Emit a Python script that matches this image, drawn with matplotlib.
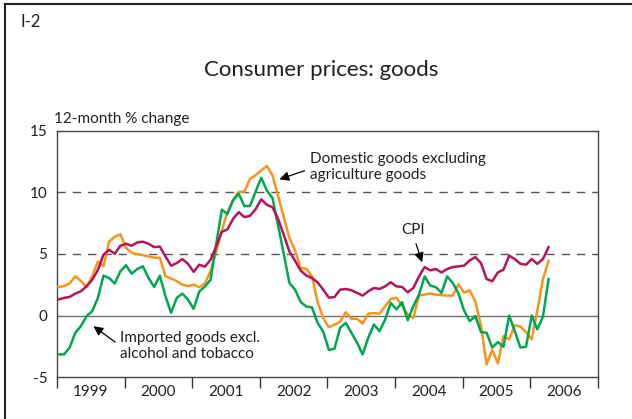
import numpy as np
import matplotlib
matplotlib.use('Agg')
import matplotlib.pyplot as plt
from matplotlib.lines import Line2D
from matplotlib.ticker import FixedLocator, NullFormatter, FixedFormatter

plt.rcParams['font.family'] = ['Lato', 'DejaVu Sans']
plt.rcParams['axes.unicode_minus'] = False

# monthly 12-month % change, Jan 1999 - Apr 2006
domestic = [2.3, 2.4, 2.6, 3.2, 2.8, 2.3, 3.2, 4.4, 4.0, 6.0, 6.4, 6.6,
            5.5, 5.1, 5.0, 4.9, 4.8, 4.7, 4.7, 3.2, 3.0, 2.8, 2.5, 2.4,
            2.5, 2.3, 2.6, 3.6, 5.2, 6.9, 8.4, 9.4, 10.05, 10.05, 11.1, 11.4,
            11.8, 12.15, 11.4, 9.7, 8.0, 6.3, 5.3, 3.85, 3.8, 3.2, 1.1, -0.2,
            -0.95, -0.75, -0.5, 0.27, -0.27, -0.27, -0.65, 0.15, 0.2, 0.15, 0.75, 1.35,
            1.43, 0.76, 0.08, -0.2, 1.62, 1.7, 1.78, 1.7, 1.65, 1.62, 1.62, 2.55,
            1.85, 2.05, 1.16, -0.8, -3.97, -2.8, -3.9, -1.67, -1.94, -0.8, -0.9, -1.35,
            -1.94, 0.4, 2.95, 4.45]
imported = [-3.16, -3.16, -2.6, -1.4, -0.86, -0.05, 0.35, 1.43, 3.24, 3.05, 2.6, 3.6,
            4.08, 3.4, 3.78, 4.0, 3.05, 2.32, 3.24, 1.56, 0.22, 1.43, 1.78, 1.3,
            0.54, 1.95, 2.35, 2.9, 5.8, 8.6, 8.25, 9.35, 9.9, 8.9, 8.9, 10.07,
            11.2, 10.15, 9.55, 7.3, 5.0, 2.65, 2.1, 1.1, 0.73, 0.66, -0.6, -1.3,
            -2.8, -2.7, -1.0, -0.6, -1.4, -2.2, -3.16, -1.8, -0.73, -1.27, -0.32, 1.03,
            0.49, 1.08, -0.38, 0.76, 1.7, 3.18, 2.43, 2.3, 1.84, 3.18, 2.65, 1.8,
            0.4, -0.46, -0.05, -1.35, -1.4, -2.6, -2.16, -2.54, 0.0, -1.27, -2.6, -2.54,
            0.0, -1.13, -0.1, 2.97]
cpi = [1.3, 1.43, 1.51, 1.78, 1.97, 2.38, 2.9, 3.7, 4.94, 5.34, 5.02, 5.67,
       5.83, 5.67, 5.94, 6.0, 5.83, 5.56, 5.6, 4.8, 4.05, 4.26, 4.59, 4.2,
       3.55, 4.13, 3.97, 4.53, 5.6, 6.8, 7.0, 7.85, 8.4, 8.0, 8.1, 8.64,
       9.45, 9.0, 8.8, 7.85, 6.55, 5.2, 4.45, 3.65, 3.25, 3.05, 2.7, 2.1,
       1.45, 1.5, 2.1, 2.16, 2.05, 1.84, 1.62, 1.97, 2.24, 2.16, 2.37, 2.7,
       2.37, 2.32, 1.89, 2.24, 3.18, 3.94, 3.67, 3.78, 3.5, 3.78, 3.94, 4.0,
       4.05, 4.48, 4.75, 4.26, 2.97, 2.78, 3.5, 3.72, 4.86, 4.59, 4.2, 4.13,
       4.59, 4.2, 4.59, 5.56]
years = [1999, 2000, 2001, 2002, 2003, 2004, 2005, 2006]

t = 1999 + (np.arange(len(cpi)) + 0.25) / 12

fig = plt.figure(figsize=(6.32, 4.19), dpi=100)
ax = fig.add_axes([0.0902, 0.1002, 0.8558, 0.5872])

txt = '#231f20'
ax.axhline(0, color='#707070', lw=1.0, zorder=1)
for lev in (5, 10):
    ax.axhline(lev, color='#555555', lw=1.0, dashes=(6, 5), zorder=1)

ax.plot(t, domestic, color='#f7941d', lw=1.8, zorder=3)
ax.plot(t, imported, color='#00a651', lw=1.8, zorder=3)
ax.plot(t, cpi, color='#b5135b', lw=1.8, zorder=4)

ax.set_xlim(1999, 2007)
ax.set_ylim(-5, 15)
ax.set_yticks([-5, 0, 5, 10, 15])
ax.tick_params(axis='y', length=0, pad=7, labelsize=11, labelcolor=txt)

ax.xaxis.set_major_locator(FixedLocator(list(range(1999, 2008))))
ax.xaxis.set_major_formatter(NullFormatter())
ax.xaxis.set_minor_locator(FixedLocator([y + 0.5 for y in years]))
ax.xaxis.set_minor_formatter(FixedFormatter([str(y) for y in years]))
ax.tick_params(axis='x', which='major', length=8, width=1.0, color='#333333', direction='out')
ax.tick_params(axis='x', which='minor', length=0, pad=6, labelsize=11, labelcolor=txt)

for s in ax.spines.values():
    s.set_color('#444444')
    s.set_linewidth(1.0)

ax.text(-0.005, 1.02, '12-month % change', transform=ax.transAxes, fontsize=11,
        color=txt, ha='left', va='bottom')

arrow = dict(arrowstyle='-|>', color='black', lw=0.9, mutation_scale=14, shrinkA=0, shrinkB=0)
ax.text(2002.74, 12.06, 'Domestic goods excluding\nagriculture goods', fontsize=11,
        color=txt, ha='left', va='center', linespacing=1.15)
ax.annotate('', xy=(2002.29, 11.07), xytext=(2002.66, 11.77), arrowprops=arrow)
ax.text(2004.27, 6.96, 'CPI', fontsize=11, color=txt, ha='center', va='center')
ax.annotate('', xy=(2004.40, 4.33), xytext=(2004.31, 5.83), arrowprops=arrow)
ax.text(1999.93, -2.47, 'Imported goods excl.\nalcohol and tobacco', fontsize=11,
        color=txt, ha='left', va='center', linespacing=1.15)
ax.annotate('', xy=(1999.54, -0.87), xytext=(1999.86, -2.16), arrowprops=arrow)

fig.text(0.508, 0.833, 'Consumer prices: goods', fontsize=16, color=txt, ha='center', va='center')
fig.text(0.032, 0.948, 'I-2', fontsize=12, color=txt, ha='left', va='center')

# frame lines at top and left
fig.add_artist(Line2D([0.008, 1.0], [0.990, 0.990], transform=fig.transFigure, color='#222222', lw=1.5))
fig.add_artist(Line2D([0.008, 0.008], [0.0, 0.990], transform=fig.transFigure, color='#222222', lw=1.5))

fig.savefig('out.png', dpi=100)
